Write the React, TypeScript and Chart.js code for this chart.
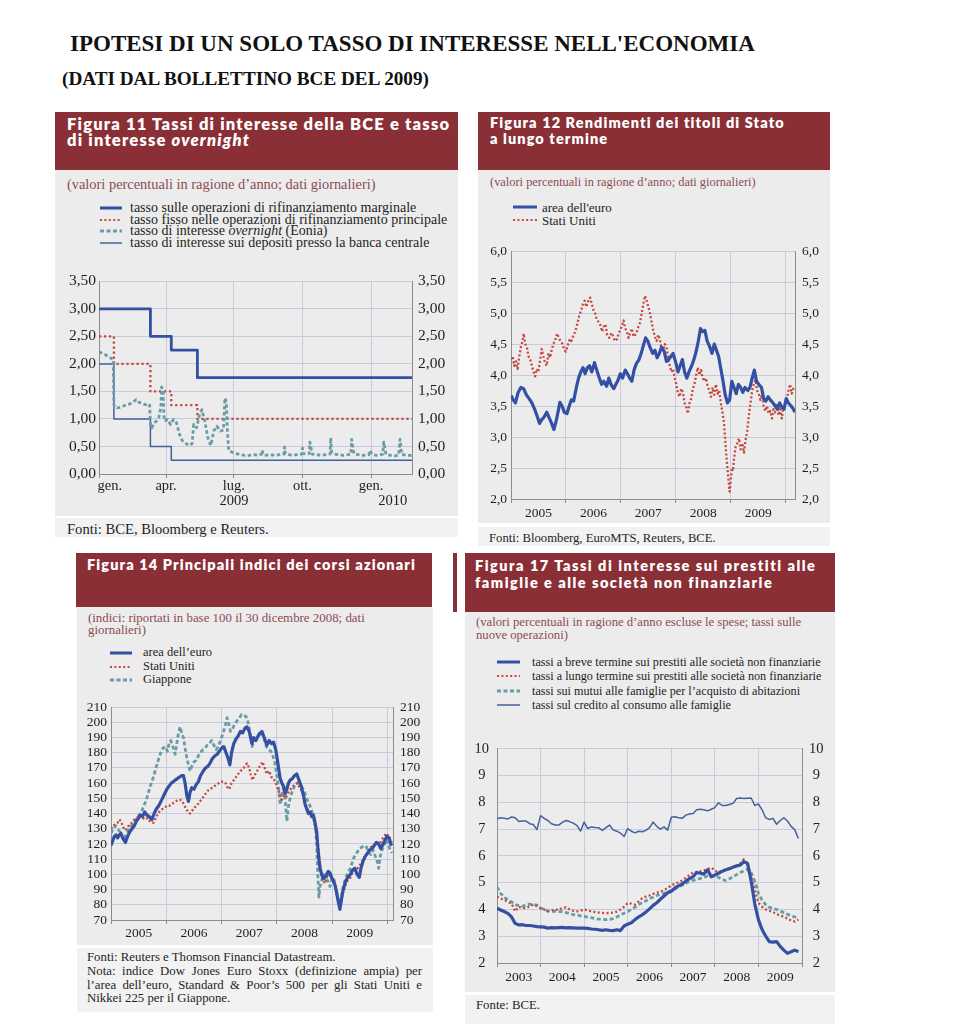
import React, { useEffect, useRef } from "react";
import { Chart, registerables } from "chart.js";

Chart.register(...registerables);

const SERIF = '"Liberation Serif", "Times New Roman", serif';
const SANS = 'Lato, "DejaVu Sans", sans-serif';
const BLUE = "#3450a2";
const RED = "#c5463d";
const TEAL = "#6a9ca8";
const THIN = "#45609f";
const GRID = "#c9cadc";
const AXIS = "#8c8c8c";
const PANEL = "#ececec";
const FOOT = "#f2f2f2";
const HEAD = "#8a2f35";
const SUB = "#8e4b52";
const TEXT = "#1e1e1e";

// ---------------- Figura 11 (days from 1 Jan 2009) ----------------
const fig11Ticks = [0, 90, 181, 273, 365];
const marginalDays = [0, 69, 97, 132, 420];
const marginalRates = [3.0, 2.5, 2.25, 1.75, 1.75];
const mainRefiDays = [0, 20, 69, 97, 132, 420];
const mainRefiRates = [2.5, 2.0, 1.5, 1.25, 1.0, 1.0];
const depositDays = [0, 20, 69, 97, 420];
const depositRates = [2.0, 1.0, 0.5, 0.25, 0.25];
const eoniaDays = [
  0, 8, 14, 19, 20, 21, 24, 28, 32, 36,
  41, 46, 50, 53, 56, 60, 63, 66, 68, 69,
  71, 74, 77, 80, 83, 84, 86, 87, 88, 92,
  96, 100, 104, 108, 112, 117, 122, 125, 127, 131,
  135, 138, 142, 146, 150, 154, 158, 163, 167, 169,
  171, 172, 174, 178, 184, 190, 196, 202, 208, 214,
  218, 219, 220, 224, 230, 236, 242, 248, 249, 250,
  254, 260, 266, 272, 273, 274, 279, 282, 283, 286,
  292, 298, 304, 310, 311, 312, 316, 322, 328, 334,
  338, 339, 342, 348, 354, 362, 364, 366, 372, 378,
  381, 382, 385, 391, 397, 402, 404, 406, 412, 420,
];
const eoniaRates = [
  2.22, 2.17, 2.12, 2.08, 1.26, 1.22, 1.2, 1.21, 1.23, 1.25,
  1.27, 1.31, 1.35, 1.31, 1.29, 1.27, 1.26, 1.28, 1.25, 0.9,
  0.84, 0.93, 0.96, 1.02, 1.2, 1.58, 1.5, 1.1, 0.96, 0.99,
  0.9, 0.99, 0.93, 0.72, 0.6, 0.55, 0.52, 0.55, 0.9, 0.84,
  1.08, 1.17, 0.96, 0.66, 0.52, 0.78, 0.87, 0.78, 0.8, 1.38,
  1.3, 0.84, 0.43, 0.4, 0.37, 0.35, 0.34, 0.34, 0.35, 0.34,
  0.36, 0.43, 0.36, 0.34, 0.35, 0.34, 0.35, 0.36, 0.49, 0.37,
  0.35, 0.34, 0.35, 0.36, 0.47, 0.37, 0.36, 0.37, 0.58, 0.36,
  0.35, 0.34, 0.35, 0.36, 0.66, 0.4, 0.36, 0.35, 0.34, 0.35,
  0.36, 0.63, 0.37, 0.35, 0.34, 0.35, 0.43, 0.36, 0.34, 0.35,
  0.36, 0.58, 0.36, 0.34, 0.33, 0.34, 0.63, 0.36, 0.34, 0.34,
];

// ---------------- Figura 12 (years from 2005) ----------------
const years0509 = ["2005", "2006", "2007", "2008", "2009"];
const euro12X = [
  0.0, 0.04, 0.08, 0.13, 0.18, 0.23, 0.28, 0.33, 0.38, 0.43,
  0.47, 0.52, 0.56, 0.6, 0.65, 0.7, 0.74, 0.78, 0.82, 0.86,
  0.89, 0.93, 0.97, 1.02, 1.06, 1.1, 1.14, 1.19, 1.23, 1.27,
  1.31, 1.35, 1.39, 1.43, 1.47, 1.52, 1.56, 1.61, 1.65, 1.69,
  1.74, 1.78, 1.82, 1.87, 1.91, 1.95, 1.99, 2.03, 2.08, 2.12,
  2.16, 2.2, 2.24, 2.28, 2.33, 2.37, 2.41, 2.45, 2.49, 2.53,
  2.58, 2.62, 2.66, 2.7, 2.74, 2.79, 2.83, 2.87, 2.91, 2.95,
  3.0, 3.04, 3.08, 3.12, 3.16, 3.2, 3.24, 3.29, 3.33, 3.37,
  3.41, 3.45, 3.49, 3.53, 3.57, 3.62, 3.66, 3.7, 3.74, 3.78,
  3.82, 3.86, 3.9, 3.94, 3.98, 4.02, 4.06, 4.1, 4.14, 4.18,
  4.22, 4.26, 4.31, 4.35, 4.39, 4.43, 4.47, 4.51, 4.56, 4.6,
  4.64, 4.68, 4.72, 4.77, 4.81, 4.85, 4.89, 4.93, 4.97, 5.01,
  5.05, 5.1, 5.14, 5.17,
];
const euro12Y = [
  3.67, 3.6, 3.55, 3.72, 3.8, 3.78, 3.68, 3.62, 3.55, 3.45,
  3.35, 3.22, 3.28, 3.32, 3.4, 3.3, 3.22, 3.12, 3.25, 3.42,
  3.56, 3.5, 3.4, 3.38, 3.5, 3.6, 3.58, 3.8, 3.95, 4.05,
  4.12, 4.02, 4.12, 4.15, 4.05, 4.2, 4.08, 3.95, 3.85, 3.9,
  3.82, 3.95, 3.85, 3.78, 3.85, 3.92, 4.02, 3.95, 4.08, 4.02,
  3.95, 3.9, 4.08, 4.18, 4.25, 4.35, 4.48, 4.6, 4.55, 4.45,
  4.35, 4.4, 4.28, 4.35, 4.45, 4.38, 4.22, 4.25, 4.3, 4.35,
  4.2, 4.05, 4.15, 4.25, 4.05, 3.95, 4.05, 4.15, 4.25, 4.38,
  4.55, 4.75, 4.7, 4.72, 4.55, 4.45, 4.35, 4.5, 4.4, 4.3,
  4.1, 3.9, 3.68, 3.55, 3.6, 3.9, 3.8, 3.7, 3.85, 3.8,
  3.72, 3.8, 3.75, 3.8, 3.95, 4.08, 3.9, 3.85, 3.8, 3.62,
  3.58, 3.65, 3.6, 3.55, 3.5, 3.45, 3.55, 3.48, 3.45, 3.62,
  3.55, 3.5, 3.45, 3.4,
];
const us12X = [
  0.0, 0.03, 0.06, 0.09, 0.12, 0.15, 0.18, 0.21, 0.23, 0.26,
  0.29, 0.32, 0.35, 0.38, 0.41, 0.44, 0.47, 0.5, 0.53, 0.56,
  0.59, 0.62, 0.65, 0.68, 0.71, 0.74, 0.77, 0.8, 0.84, 0.87,
  0.9, 0.94, 0.97, 1.0, 1.04, 1.07, 1.1, 1.14, 1.17, 1.2,
  1.24, 1.28, 1.31, 1.34, 1.37, 1.4, 1.44, 1.47, 1.5, 1.53,
  1.56, 1.6, 1.63, 1.66, 1.69, 1.72, 1.75, 1.79, 1.83, 1.86,
  1.89, 1.93, 1.96, 1.99, 2.02, 2.05, 2.08, 2.11, 2.14, 2.17,
  2.2, 2.23, 2.26, 2.29, 2.32, 2.35, 2.38, 2.41, 2.44, 2.47,
  2.5, 2.53, 2.56, 2.59, 2.62, 2.65, 2.68, 2.71, 2.74, 2.77,
  2.8, 2.83, 2.86, 2.89, 2.92, 2.95, 2.98, 3.01, 3.04, 3.07,
  3.1, 3.13, 3.16, 3.19, 3.22, 3.25, 3.28, 3.31, 3.34, 3.37,
  3.4, 3.43, 3.46, 3.49, 3.52, 3.55, 3.58, 3.61, 3.64, 3.67,
  3.7, 3.73, 3.76, 3.79, 3.82, 3.85, 3.88, 3.9, 3.92, 3.94,
  3.96, 3.98, 4.0, 4.02, 4.04, 4.06, 4.09, 4.12, 4.15, 4.18,
  4.21, 4.24, 4.27, 4.3, 4.33, 4.36, 4.39, 4.42, 4.45, 4.48,
  4.51, 4.54, 4.57, 4.6, 4.63, 4.66, 4.69, 4.72, 4.75, 4.78,
  4.81, 4.84, 4.87, 4.9, 4.93, 4.96, 4.99, 5.02, 5.05, 5.08,
  5.11, 5.14, 5.17,
];
const us12Y = [
  4.25, 4.3, 4.15, 4.22, 4.1, 4.3, 4.45, 4.55, 4.67, 4.5,
  4.45, 4.3, 4.25, 4.15, 4.05, 3.98, 4.1, 4.05, 4.25, 4.42,
  4.3, 4.2, 4.15, 4.35, 4.28, 4.4, 4.5, 4.55, 4.67, 4.6,
  4.55, 4.5, 4.4, 4.38, 4.5, 4.58, 4.55, 4.65, 4.7, 4.8,
  4.95, 5.05, 5.15, 5.2, 5.1, 5.18, 5.25, 5.15, 5.05, 5.0,
  4.9, 4.85, 4.8, 4.7, 4.78, 4.82, 4.65, 4.6, 4.68, 4.62,
  4.55, 4.58, 4.68, 4.72, 4.8, 4.88, 4.75, 4.7, 4.6, 4.68,
  4.75, 4.62, 4.65, 4.7, 4.78, 4.85, 5.0, 5.15, 5.28, 5.2,
  5.1, 5.0, 4.85, 4.72, 4.62, 4.55, 4.65, 4.58, 4.42, 4.4,
  4.5, 4.45, 4.3, 4.15, 4.05, 4.1, 3.95, 3.85, 3.7, 3.65,
  3.78, 3.72, 3.55, 3.48, 3.38, 3.55, 3.62, 3.78, 3.85, 4.0,
  4.12, 4.0, 4.08, 3.95, 3.9, 3.95, 3.82, 3.75, 3.65, 3.8,
  3.68, 3.85, 3.7, 3.75, 3.55, 3.4, 3.2, 2.95, 2.7, 2.5,
  2.3, 2.12, 2.3, 2.5, 2.45, 2.65, 2.85, 2.9, 2.98, 2.8,
  2.9, 2.75, 2.95, 3.1, 3.35, 3.55, 3.75, 3.85, 3.92, 3.75,
  3.7, 3.6, 3.68, 3.5, 3.42, 3.5, 3.38, 3.42, 3.3, 3.45,
  3.4, 3.52, 3.35, 3.45, 3.3, 3.5, 3.55, 3.6, 3.75, 3.85,
  3.7, 3.78, 3.8,
];

// ---------------- Figura 14 (years from 2005) ----------------
const euro14X = [
  0.0, 0.03, 0.06, 0.09, 0.12, 0.15, 0.18, 0.21, 0.26, 0.3,
  0.34, 0.38, 0.42, 0.46, 0.5, 0.53, 0.57, 0.61, 0.65, 0.69,
  0.74, 0.78, 0.82, 0.86, 0.89, 0.93, 0.97, 1.01, 1.05, 1.09,
  1.13, 1.16, 1.2, 1.24, 1.28, 1.31, 1.34, 1.37, 1.4, 1.43,
  1.46, 1.5, 1.54, 1.58, 1.62, 1.67, 1.71, 1.75, 1.79, 1.83,
  1.88, 1.92, 1.96, 2.0, 2.04, 2.08, 2.12, 2.15, 2.18, 2.22,
  2.26, 2.3, 2.34, 2.38, 2.42, 2.46, 2.5, 2.53, 2.55, 2.58,
  2.62, 2.66, 2.7, 2.73, 2.77, 2.82, 2.86, 2.9, 2.94, 2.98,
  3.01, 3.03, 3.06, 3.09, 3.12, 3.15, 3.18, 3.21, 3.24, 3.28,
  3.32, 3.36, 3.4, 3.44, 3.48, 3.51, 3.54, 3.57, 3.6, 3.63,
  3.66, 3.69, 3.72, 3.74, 3.76, 3.78, 3.81, 3.84, 3.87, 3.9,
  3.93, 3.96, 3.99, 4.02, 4.05, 4.08, 4.11, 4.14, 4.17, 4.2,
  4.24, 4.28, 4.33, 4.37, 4.41, 4.45, 4.49, 4.52, 4.56, 4.6,
  4.64, 4.68, 4.72, 4.76, 4.8, 4.84, 4.88, 4.92, 4.96, 4.99,
  5.03, 5.06, 5.08,
];
const euro14Y = [
  119, 122, 125, 126, 124, 126, 127, 124, 121, 125,
  128, 130, 132, 135, 137, 139, 138, 141, 139, 138,
  136, 140, 143, 145, 147, 150, 153, 156, 158, 160,
  161, 162, 163, 164, 165, 165, 160, 152, 148, 154,
  157, 156, 159, 161, 165, 168, 170, 171, 173, 176,
  178, 179, 181, 183, 184, 180, 176, 172, 180, 186,
  189, 191, 194, 193, 196, 197, 194, 189, 186, 190,
  188, 191, 193, 194, 190, 185, 188, 186, 187, 182,
  175, 170, 163, 160, 158, 153, 156, 160, 162, 163,
  165, 166, 162, 158, 152, 146, 143, 140, 141, 138,
  139, 134, 128, 118, 110, 104, 100, 97, 98, 100,
  102, 101, 98, 96, 93, 88, 82, 77, 84, 90,
  95, 98, 100, 103, 104, 100, 98, 104, 109, 112,
  114, 116, 117, 119, 121, 120, 117, 120, 123, 125,
  124, 120, 119,
];
const us14X = [
  0.0, 0.04, 0.08, 0.12, 0.15, 0.18, 0.22, 0.26, 0.3, 0.34,
  0.38, 0.42, 0.46, 0.5, 0.54, 0.58, 0.62, 0.66, 0.7, 0.74,
  0.77, 0.81, 0.85, 0.89, 0.93, 0.97, 1.01, 1.05, 1.09, 1.13,
  1.17, 1.21, 1.25, 1.29, 1.32, 1.36, 1.4, 1.43, 1.47, 1.51,
  1.55, 1.59, 1.63, 1.67, 1.71, 1.75, 1.79, 1.83, 1.87, 1.91,
  1.95, 1.99, 2.03, 2.07, 2.11, 2.14, 2.18, 2.22, 2.26, 2.3,
  2.34, 2.38, 2.42, 2.46, 2.5, 2.53, 2.56, 2.59, 2.63, 2.67,
  2.71, 2.74, 2.78, 2.82, 2.86, 2.9, 2.94, 2.98, 3.02, 3.06,
  3.09, 3.13, 3.17, 3.21, 3.25, 3.29, 3.33, 3.37, 3.41, 3.45,
  3.49, 3.52, 3.55, 3.58, 3.61, 3.64, 3.67, 3.7, 3.73, 3.76,
  3.78, 3.81, 3.84, 3.87, 3.9, 3.93, 3.96, 3.99, 4.02, 4.05,
  4.08, 4.11, 4.14, 4.17, 4.2, 4.24, 4.28, 4.33, 4.38, 4.42,
  4.46, 4.5, 4.54, 4.58, 4.62, 4.66, 4.7, 4.74, 4.78, 4.82,
  4.86, 4.9, 4.94, 4.98, 5.02, 5.05, 5.08,
];
const us14Y = [
  130, 132, 133, 134, 136, 135, 131, 129, 131, 133,
  134, 136, 137, 138, 139, 137, 136, 137, 135, 134,
  134, 137, 140, 142, 143, 144, 145, 145, 146, 147,
  148, 149, 149, 148, 146, 143, 141, 140, 142, 144,
  145, 147, 149, 151, 153, 155, 156, 157, 158, 159,
  160, 161, 161, 160, 157, 156, 160, 162, 164, 166,
  168, 169, 171, 173, 170, 165, 162, 165, 167, 170,
  172, 174, 170, 166, 168, 164, 163, 160, 156, 152,
  149, 152, 151, 154, 156, 158, 159, 160, 157, 155,
  152, 146, 143, 142, 141, 138, 135, 130, 124, 114,
  106, 100, 96, 94, 98, 100, 99, 97, 95, 94,
  88, 82, 78, 84, 89, 93, 96, 98, 102, 103,
  104, 106, 108, 111, 113, 116, 118, 119, 120, 121,
  120, 123, 125, 127, 125, 123, 121,
];
const japan14X = [
  0.0, 0.04, 0.08, 0.12, 0.16, 0.2, 0.23, 0.27, 0.31, 0.35,
  0.39, 0.43, 0.47, 0.51, 0.55, 0.59, 0.63, 0.67, 0.71, 0.75,
  0.79, 0.83, 0.87, 0.9, 0.94, 0.98, 1.02, 1.05, 1.08, 1.12,
  1.16, 1.19, 1.22, 1.25, 1.28, 1.31, 1.34, 1.37, 1.4, 1.43,
  1.46, 1.5, 1.54, 1.58, 1.62, 1.66, 1.7, 1.74, 1.78, 1.82,
  1.86, 1.9, 1.94, 1.98, 2.02, 2.06, 2.1, 2.13, 2.16, 2.2,
  2.24, 2.28, 2.32, 2.36, 2.4, 2.44, 2.48, 2.52, 2.55, 2.58,
  2.62, 2.66, 2.7, 2.73, 2.77, 2.81, 2.85, 2.89, 2.92, 2.96,
  3.0, 3.03, 3.06, 3.09, 3.12, 3.15, 3.18, 3.21, 3.24, 3.28,
  3.32, 3.36, 3.4, 3.44, 3.48, 3.52, 3.56, 3.6, 3.63, 3.66,
  3.69, 3.72, 3.74, 3.76, 3.78, 3.81, 3.84, 3.87, 3.9, 3.93,
  3.96, 3.99, 4.02, 4.05, 4.08, 4.11, 4.14, 4.18, 4.22, 4.26,
  4.3, 4.34, 4.38, 4.42, 4.46, 4.5, 4.54, 4.58, 4.62, 4.66,
  4.7, 4.74, 4.78, 4.82, 4.84, 4.87, 4.9, 4.94, 4.98, 5.02,
  5.05, 5.08,
];
const japan14Y = [
  127, 130, 132, 130, 128, 125, 123, 126, 129, 131,
  133, 135, 137, 139, 141, 145, 148, 153, 158, 162,
  167, 172, 177, 180, 183, 184, 181, 186, 188, 184,
  179, 186, 193, 197, 193, 190, 183, 177, 172, 168,
  171, 174, 175, 178, 180, 182, 183, 185, 186, 188,
  185, 182, 184, 188, 192, 197, 203, 199, 194, 196,
  199, 201, 203, 205, 204, 204, 200, 192, 184, 187,
  189, 191, 194, 193, 189, 184, 182, 181, 179, 174,
  165, 157, 146, 152, 158, 149, 135, 145, 150, 155,
  158, 160, 160, 158, 156, 152, 148, 145, 142, 138,
  135, 120, 100, 85, 92, 96, 100, 99, 97, 95,
  92, 96, 98, 94, 88, 84, 81, 88, 95, 99,
  102, 105, 110, 113, 115, 117, 118, 119, 118, 114,
  113, 116, 112, 108, 104, 112, 116, 119, 123, 119,
  116, 114,
];

// ---------------- Figura 17 (monthly, Jan 2003 = 0) ----------------
const years0309 = ["2003", "2004", "2005", "2006", "2007", "2008", "2009"];
const months17 = Array.from({ length: 84 }, (_, i) => i);
const shortTerm17 = [
  4.05, 3.98, 3.92, 3.85, 3.72, 3.48, 3.42, 3.43, 3.4, 3.4,
  3.38, 3.36, 3.35, 3.34, 3.3, 3.32, 3.31, 3.32, 3.33, 3.31,
  3.32, 3.31, 3.3, 3.3, 3.3, 3.29, 3.27, 3.26, 3.24, 3.22,
  3.24, 3.22, 3.21, 3.24, 3.21, 3.38, 3.45, 3.5, 3.62, 3.72,
  3.8, 3.9, 4.02, 4.15, 4.25, 4.38, 4.5, 4.62, 4.68, 4.8,
  4.88, 4.95, 5.05, 5.15, 5.22, 5.38, 5.35, 5.32, 5.48, 5.22,
  5.28, 5.35, 5.42, 5.48, 5.52, 5.58, 5.62, 5.66, 5.78, 5.72,
  5.05, 4.2, 3.62, 3.25, 3.0, 2.8, 2.78, 2.8, 2.62, 2.48,
  2.36, 2.42, 2.48, 2.42,
];
const longTerm17 = [
  4.48, 4.4, 4.36, 4.28, 4.22, 3.93, 4.1, 4.05, 4.05, 4.12,
  4.18, 4.12, 4.05, 4.0, 3.93, 3.96, 4.0, 3.98, 4.05, 4.08,
  4.0, 3.95, 3.93, 3.95, 4.0, 3.96, 3.93, 3.9, 3.88, 3.87,
  3.86, 3.87, 3.88, 3.92, 4.0, 4.1, 4.24, 4.22, 4.18, 4.3,
  4.42, 4.48, 4.52, 4.58, 4.62, 4.66, 4.72, 4.8, 4.9, 4.95,
  5.02, 5.08, 5.18, 5.28, 5.38, 5.4, 5.42, 5.46, 5.5, 5.56,
  5.45, 5.38, 5.44, 5.5, 5.54, 5.58, 5.65, 5.72, 5.87, 5.7,
  5.25, 4.7, 4.25, 4.1, 4.0, 3.95, 3.9, 3.82, 3.78, 3.72,
  3.66, 3.58, 3.55, 3.62,
];
const mortgage17 = [
  4.84, 4.6, 4.45, 4.36, 4.28, 4.18, 4.14, 4.12, 4.16, 4.2,
  4.18, 4.16, 4.05, 4.0, 3.94, 3.93, 3.93, 3.92, 3.92, 3.88,
  3.84, 3.81, 3.79, 3.76, 3.74, 3.71, 3.69, 3.66, 3.64, 3.63,
  3.62, 3.63, 3.66, 3.72, 3.8, 3.86, 3.92, 4.0, 4.08, 4.18,
  4.25, 4.32, 4.4, 4.46, 4.52, 4.56, 4.6, 4.65, 4.7, 4.76,
  4.84, 4.9, 4.97, 5.04, 5.08, 5.12, 5.16, 5.2, 5.25, 5.26,
  5.24, 5.2, 5.12, 5.08, 5.14, 5.22, 5.3, 5.38, 5.44, 5.5,
  5.38, 5.05, 4.6, 4.35, 4.18, 4.08, 4.04, 4.0, 3.94, 3.88,
  3.82, 3.76, 3.72, 3.69,
];
const consumer17 = [
  7.38, 7.42, 7.4, 7.38, 7.45, 7.42, 7.28, 7.3, 7.3, 7.2,
  7.17, 6.98, 7.5, 7.4, 7.32, 7.2, 7.15, 7.15, 7.25, 7.32,
  7.28, 7.22, 7.14, 6.92, 7.26, 7.02, 7.08, 7.06, 7.05, 6.95,
  7.05, 7.15, 6.97, 6.92, 6.85, 6.72, 7.02, 6.92, 6.86, 6.92,
  6.9, 6.95, 7.05, 7.26, 7.1, 7.0, 7.08, 6.96, 7.44, 7.46,
  7.42, 7.4, 7.52, 7.56, 7.58, 7.72, 7.74, 7.72, 7.68, 7.74,
  7.8, 7.98, 7.88, 7.88, 7.92, 7.96, 8.14, 8.16, 8.14, 8.15,
  8.16, 7.88, 7.94, 7.72, 7.42, 7.36, 7.4, 7.18, 7.32, 7.42,
  7.3, 7.1, 6.98, 6.65,
];

// ---------------- chart helper ----------------
type LineSpec = {
  xs: number[];
  ys: number[];
  color: string;
  width: number;
  dash?: number[];
  stepped?: boolean;
};

type Spec = {
  box: [number, number, number, number];
  plot: [number, number, number, number];
  xMin: number;
  xMax: number;
  xTicks: number[];
  xGrid: number[];
  xLabels: Record<string, string | string[]>;
  yMin: number;
  yMax: number;
  yStep: number;
  yDec: number;
  yFont: number;
  xFont: number;
  xLine: number;
  xPad: number;
  yPadL: number;
  yPadR: number;
  yCenter?: boolean;
  lines: LineSpec[];
};

const TRANSPARENT = "rgba(0,0,0,0)";

function buildConfig(s: Spec): any {
  const [bl, bt, bw, bh] = s.box;
  const [pl, pt, pr, pb] = s.plot;
  const leftW = pl - bl;
  const rightW = bl + bw - pr;
  const bottomH = bt + bh - pb;
  const padTop = pt - bt;
  const gridSet = new Set(s.xGrid.map((v) => String(v)));
  const fmt = (v: number) => v.toFixed(s.yDec).replace(".", ",");
  const yTicks = {
    font: { family: SERIF, size: s.yFont },
    color: TEXT,
    stepSize: s.yStep,
    autoSkip: false,
    crossAlign: s.yCenter ? "center" : "near",
    callback: (v: any) => fmt(Number(v)),
  };
  return {
    type: "line",
    data: {
      datasets: s.lines.map((l) => ({
        data: l.xs
          .map((x, i) => ({ x, y: l.ys[i] }))
          .filter((p) => p.y !== undefined),
        borderColor: l.color,
        borderWidth: l.width,
        borderDash: l.dash ?? [],
        stepped: l.stepped ?? false,
        pointRadius: 0,
        fill: false,
        tension: 0,
        borderJoinStyle: "round",
      })),
    },
    options: {
      responsive: false,
      animation: false,
      events: [],
      layout: { padding: { top: padTop, left: 0, right: 0, bottom: 0 } },
      plugins: { legend: { display: false }, tooltip: { enabled: false } },
      scales: {
        x: {
          type: "linear",
          min: s.xMin,
          max: s.xMax,
          afterBuildTicks: (sc: any) => {
            sc.ticks = s.xTicks.map((v) => ({ value: v }));
          },
          afterFit: (sc: any) => {
            sc.height = bottomH;
          },
          grid: {
            color: (c: any) =>
              c.tick && gridSet.has(String(c.tick.value)) ? GRID : TRANSPARENT,
            tickColor: (c: any) =>
              c.tick && gridSet.has(String(c.tick.value)) ? AXIS : TRANSPARENT,
            tickLength: 4,
            drawTicks: true,
            lineWidth: 1,
          },
          border: { display: true, color: AXIS, width: 1 },
          ticks: {
            autoSkip: false,
            maxRotation: 0,
            minRotation: 0,
            padding: s.xPad,
            font: { family: SERIF, size: s.xFont, lineHeight: s.xLine },
            color: TEXT,
            callback: (v: any) => s.xLabels[String(v)] ?? "",
          },
        },
        y: {
          position: "left",
          min: s.yMin,
          max: s.yMax,
          afterFit: (sc: any) => {
            sc.width = leftW;
          },
          grid: { color: GRID, drawTicks: false, lineWidth: 1 },
          border: { display: true, color: AXIS, width: 1 },
          ticks: { ...yTicks, padding: s.yPadL },
        },
        y2: {
          position: "right",
          min: s.yMin,
          max: s.yMax,
          afterFit: (sc: any) => {
            sc.width = rightW;
          },
          grid: { display: false, drawTicks: false },
          border: { display: true, color: AXIS, width: 1 },
          ticks: { ...yTicks, padding: s.yPadR },
        },
      },
    },
  };
}

function ChartBox({ spec }: { spec: Spec }) {
  const ref = useRef<HTMLCanvasElement>(null);
  useEffect(() => {
    if (!ref.current) return;
    const chart = new Chart(ref.current, buildConfig(spec));
    return () => chart.destroy();
  }, [spec]);
  const [l, t, w, h] = spec.box;
  return (
    <canvas
      ref={ref}
      width={w}
      height={h}
      style={{ position: "absolute", left: l, top: t, width: w, height: h }}
    />
  );
}

function yearLabels(names: string[], unit: number): Record<string, string> {
  const out: Record<string, string> = {};
  names.forEach((n, i) => {
    out[String(i * unit + unit / 2)] = n;
  });
  return out;
}
function yearTicks(n: number, unit: number, withMids: boolean): number[] {
  const out: number[] = [];
  for (let i = 0; i <= n; i++) {
    out.push(i * unit);
    if (withMids && i < n) out.push(i * unit + unit / 2);
  }
  return out;
}

const spec11: Spec = {
  box: [57, 266, 399, 248],
  plot: [99, 277, 412, 474],
  xMin: 0,
  xMax: 420,
  xTicks: fig11Ticks,
  xGrid: fig11Ticks,
  xLabels: {
    "0": "\u2002\u2002\u2002gen.",
    "90": "apr.",
    "181": ["lug.", "2009"],
    "273": "ott.",
    "365": ["gen.", "\u2002\u2002\u2002\u2002\u2002\u20022010"],
  },
  yMin: 0,
  yMax: 3.5,
  yStep: 0.5,
  yDec: 2,
  yFont: 15.5,
  xFont: 14.5,
  xLine: 1.0,
  xPad: 1,
  yPadL: 3,
  yPadR: 6,
  lines: [
    { xs: eoniaDays, ys: eoniaRates, color: TEAL, width: 2.8, dash: [3.5, 2.5] },
    { xs: marginalDays, ys: marginalRates, color: BLUE, width: 2.8, stepped: true },
    { xs: mainRefiDays, ys: mainRefiRates, color: RED, width: 2.3, dash: [2.2, 2.8], stepped: true },
    { xs: depositDays, ys: depositRates, color: THIN, width: 1.5, stepped: true },
  ],
};

const spec12: Spec = {
  box: [480, 236, 348, 287],
  plot: [511, 246, 795, 499],
  xMin: 0,
  xMax: 5.17,
  xTicks: yearTicks(5, 1, true),
  xGrid: yearTicks(5, 1, false),
  xLabels: yearLabels(years0509, 1),
  yMin: 2,
  yMax: 6,
  yStep: 0.5,
  yDec: 1,
  yFont: 13.5,
  xFont: 13.5,
  xLine: 1.2,
  xPad: 2,
  yPadL: 4,
  yPadR: 7,
  lines: [
    { xs: euro12X, ys: euro12Y, color: BLUE, width: 3.2 },
    { xs: us12X, ys: us12Y, color: RED, width: 2.3, dash: [2, 2.2] },
  ],
};

const spec14: Spec = {
  box: [79, 692, 352, 252],
  plot: [111, 702, 393, 920],
  xMin: 0,
  xMax: 5.1,
  xTicks: yearTicks(5, 1, true),
  xGrid: yearTicks(5, 1, false),
  xLabels: yearLabels(years0509, 1),
  yMin: 70,
  yMax: 210,
  yStep: 10,
  yDec: 0,
  yFont: 13.5,
  xFont: 13.5,
  xLine: 1.2,
  xPad: 1,
  yPadL: 4,
  yPadR: 7,
  lines: [
    { xs: euro14X, ys: euro14Y, color: BLUE, width: 3.2 },
    { xs: us14X, ys: us14Y, color: RED, width: 2.3, dash: [2, 2.2] },
    { xs: japan14X, ys: japan14Y, color: TEAL, width: 2.8, dash: [4, 2.5] },
  ],
};

const spec17: Spec = {
  box: [467, 732, 366, 258],
  plot: [497, 743, 802, 963],
  xMin: 0,
  xMax: 84,
  xTicks: yearTicks(7, 12, true),
  xGrid: yearTicks(7, 12, false),
  xLabels: yearLabels(years0309, 12),
  yMin: 2,
  yMax: 10,
  yStep: 1,
  yDec: 0,
  yFont: 14.5,
  xFont: 13.5,
  xLine: 1.2,
  xPad: 2,
  yPadL: 8,
  yPadR: 7,
  yCenter: true,
  lines: [
    { xs: months17, ys: shortTerm17, color: BLUE, width: 3.2 },
    { xs: months17, ys: longTerm17, color: RED, width: 2.3, dash: [2, 2.4] },
    { xs: months17, ys: mortgage17, color: TEAL, width: 2.8, dash: [4, 2.5] },
    { xs: months17, ys: consumer17, color: THIN, width: 1.5 },
  ],
};

// ---------------- layout helpers ----------------
type Kind = "thick" | "dotted" | "dashed" | "thin";
const swatch: Record<Kind, { color: string; w: number; dash?: string }> = {
  thick: { color: BLUE, w: 3 },
  dotted: { color: RED, w: 2, dash: "2 2.4" },
  dashed: { color: TEAL, w: 3, dash: "4 2.5" },
  thin: { color: THIN, w: 1.5 },
};

function Box(p: { x: number; y: number; w: number; h: number; bg: string }) {
  return (
    <div
      style={{
        position: "absolute",
        left: p.x,
        top: p.y,
        width: p.w,
        height: p.h,
        background: p.bg,
      }}
    />
  );
}

function Txt(p: {
  x: number;
  y: number;
  fs: number;
  lh: number;
  color?: string;
  family?: string;
  weight?: number;
  ls?: number;
  w?: number;
  justify?: boolean;
  children: React.ReactNode;
}) {
  return (
    <div
      style={{
        position: "absolute",
        left: p.x,
        top: p.y - p.lh / 2,
        width: p.w,
        fontFamily: p.family ?? SERIF,
        fontSize: p.fs,
        fontWeight: p.weight ?? 400,
        lineHeight: `${p.lh}px`,
        letterSpacing: p.ls ? `${p.ls}px` : undefined,
        color: p.color ?? TEXT,
        whiteSpace: "nowrap",
        textAlign: p.justify ? "justify" : "left",
        textAlignLast: p.justify ? "justify" : "auto",
      }}
    >
      {p.children}
    </div>
  );
}

function Legend(p: {
  items: { kind: Kind; label: React.ReactNode }[];
  sx: number;
  sw: number;
  tx: number;
  y0: number;
  dy: number;
  fs: number;
}) {
  return (
    <>
      {p.items.map((it, i) => {
        const st = swatch[it.kind];
        const cy = p.y0 + i * p.dy;
        return (
          <React.Fragment key={i}>
            <svg
              width={p.sw}
              height={8}
              style={{ position: "absolute", left: p.sx, top: cy - 4 }}
            >
              <line
                x1={0}
                y1={4}
                x2={p.sw}
                y2={4}
                stroke={st.color}
                strokeWidth={st.w}
                strokeDasharray={st.dash}
              />
            </svg>
            <Txt x={p.tx} y={cy} fs={p.fs} lh={p.dy + 2}>
              {it.label}
            </Txt>
          </React.Fragment>
        );
      })}
    </>
  );
}

function Header(p: {
  x: number;
  y: number;
  w: number;
  h: number;
  tx: number;
  ty: number;
  fs: number;
  lh: number;
  ls: number;
  children: React.ReactNode;
}) {
  return (
    <>
      <Box x={p.x} y={p.y} w={p.w} h={p.h} bg={HEAD} />
      <div
        style={{
          position: "absolute",
          left: p.tx,
          top: p.ty,
          fontFamily: SANS,
          fontWeight: 800,
          fontSize: p.fs,
          lineHeight: `${p.lh}px`,
          letterSpacing: `${p.ls}px`,
          color: "#ffffff",
          whiteSpace: "nowrap",
        }}
      >
        {p.children}
      </div>
    </>
  );
}

export default function App() {
  return (
    <div
      style={{
        position: "absolute",
        left: 0,
        top: 0,
        width: 965,
        height: 1024,
        background: "#ffffff",
        overflow: "hidden",
      }}
    >
      {/* Titles */}
      <Txt x={70} y={44} fs={23} lh={28} weight={700} color="#111">
        IPOTESI DI UN SOLO TASSO DI INTERESSE NELL'ECONOMIA
      </Txt>
      <Txt x={62} y={79} fs={19.2} lh={24} weight={700} color="#111">
        (DATI DAL BOLLETTINO BCE DEL 2009)
      </Txt>

      {/* ---------- Figura 11 ---------- */}
      <Box x={55} y={170} w={403} h={346} bg={PANEL} />
      <Box x={55} y={518} w={403} h={19} bg={FOOT} />
      <Header x={55} y={112} w={403} h={58} tx={67} ty={116} fs={16.5} lh={16} ls={1.2}>
        Figura 11 Tassi di interesse della BCE e tasso
        <br />
        di interesse <i>overnight</i>
      </Header>
      <Txt x={67} y={184} fs={14.4} lh={16} color={SUB}>
        (valori percentuali in ragione d’anno; dati giornalieri)
      </Txt>
      <Legend
        sx={100}
        sw={22}
        tx={130}
        y0={208}
        dy={11.5}
        fs={14}
        items={[
          { kind: "thick", label: "tasso sulle operazioni di rifinanziamento marginale" },
          { kind: "dotted", label: "tasso fisso nelle operazioni di rifinanziamento principale" },
          {
            kind: "dashed",
            label: (
              <>
                tasso di interesse <i>overnight</i> (Eonia)
              </>
            ),
          },
          { kind: "thin", label: "tasso di interesse sui depositi presso la banca centrale" },
        ]}
      />
      <ChartBox spec={spec11} />
      <Txt x={67} y={529} fs={14.6} lh={16}>
        Fonti: BCE, Bloomberg e Reuters.
      </Txt>

      {/* ---------- Figura 12 ---------- */}
      <Box x={478} y={170} w={352} h={353} bg={PANEL} />
      <Box x={478} y={527} w={352} h={19} bg={FOOT} />
      <Header x={478} y={112} w={352} h={58} tx={490} ty={115} fs={14.5} lh={16} ls={1.1}>
        Figura 12 Rendimenti dei titoli di Stato
        <br />a lungo termine
      </Header>
      <Txt x={490} y={182} fs={12.4} lh={14} color={SUB}>
        (valori percentuali in ragione d’anno; dati giornalieri)
      </Txt>
      <Legend
        sx={513}
        sw={24}
        tx={542}
        y0={207}
        dy={13}
        fs={13}
        items={[
          { kind: "thick", label: "area dell'euro" },
          { kind: "dotted", label: "Stati Uniti" },
        ]}
      />
      <ChartBox spec={spec12} />
      <Txt x={489} y={538} fs={12.7} lh={15}>
        Fonti: Bloomberg, EuroMTS, Reuters, BCE.
      </Txt>

      {/* ---------- Figura 14 ---------- */}
      <Box x={77} y={607} w={356} h={338} bg={PANEL} />
      <Box x={77} y={948} w={356} h={64} bg={FOOT} />
      <Header x={76} y={553} w={356} h={54} tx={87} ty={557} fs={14.5} lh={16} ls={1.12}>
        Figura 14 Principali indici dei corsi azionari
      </Header>
      <Txt x={88} y={618} fs={12.9} lh={12} color={SUB}>
        (indici: riportati in base 100 il 30 dicembre 2008; dati
      </Txt>
      <Txt x={88} y={630} fs={12.9} lh={12} color={SUB}>
        giornalieri)
      </Txt>
      <Legend
        sx={110}
        sw={22}
        tx={143}
        y0={653}
        dy={13.5}
        fs={12.5}
        items={[
          { kind: "thick", label: "area dell’euro" },
          { kind: "dotted", label: "Stati Uniti" },
          { kind: "dashed", label: "Giappone" },
        ]}
      />
      <ChartBox spec={spec14} />
      <Txt x={87} y={957} fs={12.8} lh={14}>
        Fonti: Reuters e Thomson Financial Datastream.
      </Txt>
      <Txt x={87} y={971} fs={12.8} lh={14} w={335} justify>
        Nota: indice Dow Jones Euro Stoxx (definizione ampia) per
      </Txt>
      <Txt x={87} y={984.5} fs={12.8} lh={14} w={335} justify>
        l’area dell’euro, Standard &amp; Poor’s 500 per gli Stati Uniti e
      </Txt>
      <Txt x={87} y={998} fs={12.8} lh={14}>
        Nikkei 225 per il Giappone.
      </Txt>

      {/* ---------- Figura 17 ---------- */}
      <Box x={453} y={553} w={4} h={59} bg={HEAD} />
      <Box x={465} y={612} w={370} h={380} bg={PANEL} />
      <Box x={465} y={995} w={370} h={29} bg={FOOT} />
      <Header x={465} y={553} w={370} h={59} tx={475} ty={557} fs={14.5} lh={17} ls={1.5}>
        Figura 17 Tassi di interesse sui prestiti alle
        <br />
        famiglie e alle società non finanziarie
      </Header>
      <Txt x={476} y={622} fs={12.7} lh={13} color={SUB}>
        (valori percentuali in ragione d’anno escluse le spese; tassi sulle
      </Txt>
      <Txt x={476} y={635} fs={12.7} lh={13} color={SUB}>
        nuove operazioni)
      </Txt>
      <Legend
        sx={497}
        sw={23}
        tx={532}
        y0={662}
        dy={14.4}
        fs={12.2}
        items={[
          { kind: "thick", label: "tassi a breve termine sui prestiti alle società non finanziarie" },
          { kind: "dotted", label: "tassi a lungo termine sui prestiti alle società non finanziarie" },
          { kind: "dashed", label: "tassi sui mutui alle famiglie per l’acquisto di abitazioni" },
          { kind: "thin", label: "tassi sul credito al consumo alle famiglie" },
        ]}
      />
      <ChartBox spec={spec17} />
      <Txt x={476} y={1005} fs={12.8} lh={15}>
        Fonte: BCE.
      </Txt>
    </div>
  );
}
